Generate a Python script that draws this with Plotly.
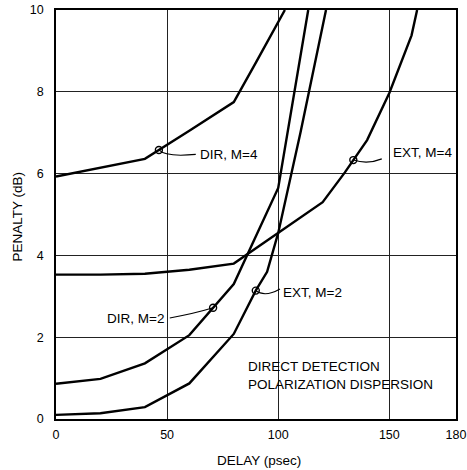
import plotly.graph_objects as go
import numpy as np

# ---- data ----
dir_m4_x = [0, 20, 40, 60, 80, 90, 100, 103]
dir_m4_y = [5.93, 6.14, 6.36, 7.05, 7.75, 8.72, 9.7, 10.0]

dir_m2_x = [0, 20, 40, 60, 80, 90, 100, 113.5]
dir_m2_y = [0.86, 0.98, 1.36, 2.05, 3.3, 4.47, 5.65, 10.0]

ext_m2_x = [0, 20, 40, 60, 80, 90, 95, 100, 110, 121.5]
ext_m2_y = [0.1, 0.14, 0.29, 0.87, 2.08, 3.15, 3.6, 4.55, 7.0, 10.0]

ext_m4_x = [0, 20, 40, 60, 80, 100, 120, 130, 140, 150, 160, 162.5]
ext_m4_y = [3.53, 3.53, 3.55, 3.65, 3.8, 4.55, 5.3, 6.03, 6.82, 7.97, 9.38, 10.0]

x_ticks = [0, 50, 100, 150, 180]
y_ticks = [0, 2, 4, 6, 8, 10]

series = [
    ("DIR, M=4", dir_m4_x, dir_m4_y),
    ("DIR, M=2", dir_m2_x, dir_m2_y),
    ("EXT, M=2", ext_m2_x, ext_m2_y),
    ("EXT, M=4", ext_m4_x, ext_m4_y),
]

# label callouts: marker x on curve, label position, leader control/end
callouts = {
    "DIR, M=4": dict(mx=46.3, lx=63.8, ly=6.47, anchor="left", end=(62.9, 6.47), ctrl=(49.4, 6.40)),
    "EXT, M=4": dict(mx=133.8, lx=150.6, ly=6.52, anchor="left", end=(146.6, 6.36), ctrl=(140.4, 6.22)),
    "DIR, M=2": dict(mx=70.7, lx=49.6, ly=2.45, anchor="right", end=(51.2, 2.47), ctrl=(62.4, 2.58)),
    "EXT, M=2": dict(mx=89.9, lx=101.3, ly=3.1, anchor="left", end=(100.8, 3.18), ctrl=(94.0, 2.97)),
}

FONT = "Liberation Sans, Arial, Helvetica, sans-serif"

fig = go.Figure()
shapes = []
annotations = []

for name, xs, ys in series:
    fig.add_trace(go.Scatter(x=xs, y=ys, mode="lines",
                             line=dict(color="black", width=2.4),
                             showlegend=False, hoverinfo="skip"))
    c = callouts[name]
    my = float(np.interp(c["mx"], xs, ys))
    fig.add_trace(go.Scatter(x=[c["mx"]], y=[my], mode="markers",
                             marker=dict(symbol="circle-open", size=7,
                                         color="black", line=dict(width=1.4)),
                             showlegend=False, hoverinfo="skip"))
    ex, ey = c["end"]
    cx, cy = c["ctrl"]
    shapes.append(dict(type="path", xref="x", yref="y",
                       path=f"M {c['mx']},{my} Q {cx},{cy} {ex},{ey}",
                       line=dict(color="black", width=1.1)))
    annotations.append(dict(x=c["lx"], y=c["ly"], xref="x", yref="y",
                            text=name, showarrow=False,
                            xanchor=c["anchor"], yanchor="middle",
                            font=dict(family=FONT, size=13.5, color="black")))

annotations.append(dict(x=85.4, y=1.07, xref="x", yref="y",
                        text="DIRECT DETECTION<br>POLARIZATION DISPERSION",
                        showarrow=False, xanchor="left", yanchor="middle", align="left",
                        font=dict(family=FONT, size=13.5, color="black")))

# axis titles
annotations.append(dict(x=0.5, y=0, xref="paper", yref="paper", yshift=-41, xshift=3,
                        text="DELAY (psec)", showarrow=False,
                        xanchor="center", yanchor="middle",
                        font=dict(family=FONT, size=13.5, color="black")))
annotations.append(dict(x=0, y=0.5, xref="paper", yref="paper", xshift=-39, yshift=-2,
                        text="PENALTY (dB)", showarrow=False, textangle=-90,
                        xanchor="center", yanchor="middle",
                        font=dict(family=FONT, size=13.5, color="black")))

fig.update_layout(
    width=467, height=470,
    margin=dict(l=56, r=11, t=10, b=51, autoexpand=False),
    paper_bgcolor="white", plot_bgcolor="white",
    font=dict(family=FONT, size=12.5, color="black"),
    shapes=shapes, annotations=annotations,
)
fig.update_xaxes(range=[0, 180], tickvals=x_ticks, ticktext=[str(v) for v in x_ticks],
                 showgrid=True, gridcolor="#222", gridwidth=1,
                 showline=True, linecolor="black", linewidth=1.8, mirror=True,
                 ticks="", ticklabelstandoff=3, zeroline=False, automargin=False)
fig.update_yaxes(range=[0, 10], tickvals=y_ticks,
                 showgrid=True, gridcolor="#222", gridwidth=1,
                 showline=True, linecolor="black", linewidth=1.8, mirror=True,
                 ticks="", ticklabelstandoff=8, zeroline=False, automargin=False)

fig.write_html("out.html")
